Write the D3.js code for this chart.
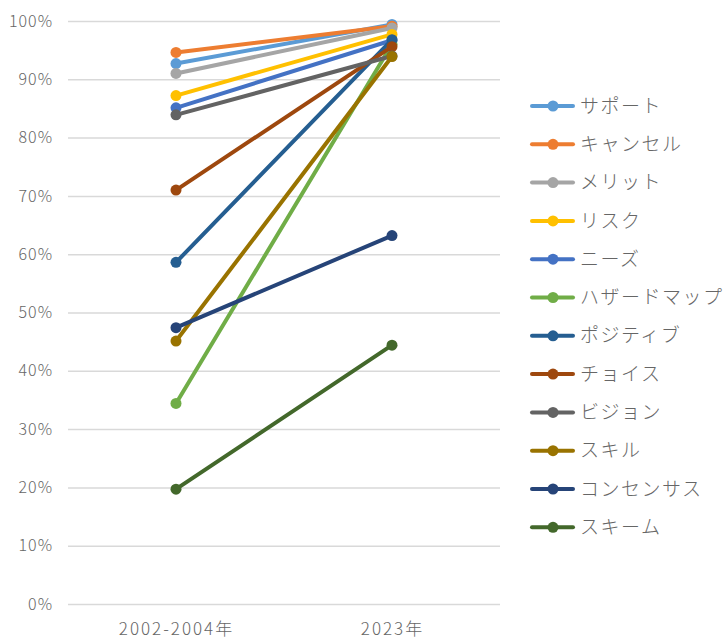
<!DOCTYPE html>
<html><head><meta charset="utf-8">
<script src="https://cdn.jsdelivr.net/npm/d3@7"></script>
<style>body{margin:0;background:#fff}svg{display:block}</style>
</head><body><svg id="c" width="727" height="639"></svg>
<script>
const categories = ["2002-2004年", "2023年"];
const seriesNames = ["サポート","キャンセル","メリット","リスク","ニーズ","ハザードマップ","ポジティブ","チョイス","ビジョン","スキル","コンセンサス","スキーム"];
const values2002 = [0.927, 0.946, 0.910, 0.872, 0.851, 0.344, 0.586, 0.710, 0.839, 0.451, 0.474, 0.197];
const values2023 = [0.994, 0.991, 0.988, 0.977, 0.967, 0.960, 0.968, 0.956, 0.940, 0.939, 0.632, 0.444];
const seriesColors = ["#5B9BD5","#ED7D31","#A5A5A5","#FFC000","#4472C4","#70AD47","#255E91","#9E480E","#636363","#997300","#264478","#43682B"];
const yTicks = [0,0.1,0.2,0.3,0.4,0.5,0.6,0.7,0.8,0.9,1.0];

const svg = d3.select("#c");
const font = "'Noto Sans CJK JP','Noto Sans',sans-serif";
const plot = {left:68, right:500, top:21, bottom:604};
const x = d3.scalePoint().domain(categories).range([plot.left, plot.right]).padding(0.5);
const y = d3.scaleLinear().domain([0,1]).range([plot.bottom, plot.top]);

const yAxis = d3.axisLeft(y).tickValues(yTicks).tickFormat(d3.format(".0%"))
  .tickSize(-(plot.right-plot.left)).tickPadding(15);
const gy = svg.append("g").attr("transform",`translate(${plot.left},0)`).call(yAxis);
gy.select(".domain").remove();
gy.selectAll(".tick line").attr("stroke","#d9d9d9").attr("stroke-width",1.5);
gy.selectAll(".tick text").attr("fill","#666").style("font-family",font).style("font-size","16px").style("font-weight",300).style("letter-spacing","1px");

const xAxis = d3.axisBottom(x).tickSize(0).tickPadding(19);
const gx = svg.append("g").attr("transform",`translate(0,${plot.bottom})`).call(xAxis);
gx.select(".domain").remove();
gx.selectAll(".tick text").attr("fill","#666").style("font-family",font).style("font-size","17px").style("font-weight",300).style("letter-spacing","2px");

const series = seriesNames.map((n,i)=>({name:n,color:seriesColors[i],vals:[values2002[i],values2023[i]]}));
const line = d3.line().x((d,i)=>x(categories[i])).y(d=>y(d));
const gs = svg.append("g").selectAll("g").data(series).join("g");
gs.append("path").attr("d",d=>line(d.vals)).attr("fill","none").attr("stroke",d=>d.color).attr("stroke-width",4).attr("stroke-linecap","round");
gs.selectAll("circle").data(d=>d.vals.map((v,i)=>({v,i,c:d.color}))).join("circle")
  .attr("cx",d=>x(categories[d.i])).attr("cy",d=>y(d.v)).attr("r",5.5).attr("fill",d=>d.c);

const leg = svg.append("g").selectAll("g").data(series).join("g")
  .attr("transform",(d,i)=>`translate(532,${106+i*38.3})`);
leg.append("line").attr("x1",0).attr("x2",41).attr("stroke",d=>d.color).attr("stroke-width",4).attr("stroke-linecap","round");
leg.append("circle").attr("cx",21).attr("r",5.5).attr("fill",d=>d.color);
leg.append("text").attr("x",48).attr("dy","0.35em").text(d=>d.name).attr("fill","#666")
  .style("font-family",font).style("font-size","19px").style("font-weight",300).style("letter-spacing","1.5px");
</script></body></html>
